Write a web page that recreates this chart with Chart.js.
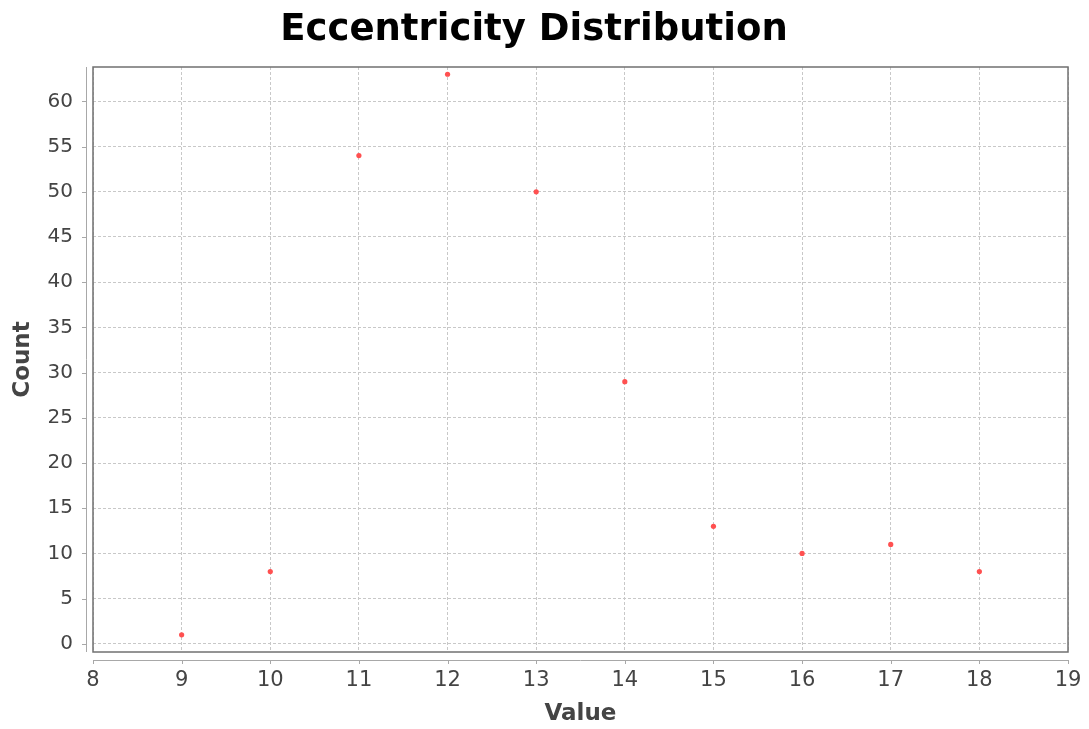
<!DOCTYPE html>
<html>
<head>
<meta charset="utf-8">
<script src="https://cdn.jsdelivr.net/npm/chart.js@4"></script>
<style>
  html, body { margin: 0; padding: 0; background: #fff; }
  #wrap { width: 1089px; height: 729px; }
</style>
</head>
<body>
<div id="wrap"><canvas id="chart" width="1089" height="729"></canvas></div>
<script>
// values
const xValues = [9, 10, 11, 12, 13, 14, 15, 16, 17, 18];
const counts = [1, 8, 54, 63, 50, 29, 13, 10, 11, 8];
const xTicks = [8, 9, 10, 11, 12, 13, 14, 15, 16, 17, 18, 19];
const yTicks = [0, 5, 10, 15, 20, 25, 30, 35, 40, 45, 50, 55, 60];

const points = xValues.map((x, i) => ({ x: x, y: counts[i] }));

// plot outline plus the offset axis lines, JFreeChart style
const axisPlugin = {
  id: 'axisLines',
  afterDraw(chart) {
    const { ctx, chartArea: a, scales } = chart;
    ctx.save();
    ctx.strokeStyle = '#707070';
    ctx.lineWidth = 1.5;
    ctx.strokeRect(a.left, a.top, a.right - a.left, a.bottom - a.top);

    ctx.strokeStyle = '#a8a8a8';
    ctx.lineWidth = 1;
    // y axis line
    const ax = a.left - 7;
    ctx.beginPath();
    ctx.moveTo(ax + 0.5, a.top);
    ctx.lineTo(ax + 0.5, a.bottom);
    yTicks.forEach(v => {
      const py = Math.round(scales.y.getPixelForValue(v)) + 0.5;
      ctx.moveTo(ax - 4, py);
      ctx.lineTo(ax, py);
    });
    // x axis line
    const ay = a.bottom + 8;
    ctx.moveTo(a.left, ay + 0.5);
    ctx.lineTo(a.right, ay + 0.5);
    xTicks.forEach(v => {
      const px = Math.round(scales.x.getPixelForValue(v)) + 0.5;
      ctx.moveTo(px, ay);
      ctx.lineTo(px, ay + 4);
    });
    ctx.stroke();
    ctx.restore();
  }
};

new Chart(document.getElementById('chart').getContext('2d'), {
  type: 'scatter',
  data: {
    datasets: [{
      label: 'Count',
      data: points,
      backgroundColor: '#ff5050',
      borderColor: '#ff5050',
      pointRadius: 2.6,
      pointHoverRadius: 2.6,
      borderWidth: 0
    }]
  },
  options: {
    responsive: false,
    animation: false,
    layout: { padding: { left: 0, right: 21, top: 0, bottom: 0 } },
    plugins: {
      legend: { display: false },
      tooltip: { enabled: false },
      title: {
        display: true,
        text: 'Eccentricity Distribution',
        color: '#000',
        font: { family: 'DejaVu Sans', size: 37, weight: 'bold' },
        padding: { top: 8, bottom: 14.6 }
      }
    },
    scales: {
      x: {
        type: 'linear',
        min: 8,
        max: 19,
        afterBuildTicks: s => { s.ticks = xTicks.map(v => ({ value: v })); },
        afterFit: s => { s.height = 77; s.paddingLeft = 0; s.paddingRight = 0; },
        grid: {
          color: '#c8c8c8',
          lineWidth: 1,
          drawTicks: false
        },
        border: { display: false, dash: [3, 2] },
        ticks: {
          color: '#444',
          font: { family: 'DejaVu Sans', size: 21 },
          padding: 16
        },
        title: {
          display: true,
          text: 'Value',
          color: '#444',
          font: { family: 'DejaVu Sans', size: 23, weight: 'bold' },
          padding: { top: 0, bottom: 1 }
        }
      },
      y: {
        type: 'linear',
        min: -0.9,
        max: 63.8,
        afterBuildTicks: s => { s.ticks = yTicks.map(v => ({ value: v })); },
        afterFit: s => { s.width = 93; s.paddingTop = 0; s.paddingBottom = 0; },
        grid: {
          color: '#c8c8c8',
          lineWidth: 1,
          drawTicks: false
        },
        border: { display: false, dash: [3, 2] },
        ticks: {
          color: '#444',
          font: { family: 'DejaVu Sans', size: 20 },
          padding: 20
        },
        title: {
          display: true,
          text: 'Count',
          color: '#444',
          font: { family: 'DejaVu Sans', size: 23, weight: 'bold' },
          padding: { top: 9, bottom: 0 }
        }
      }
    }
  },
  plugins: [axisPlugin]
});
</script>
</body>
</html>
